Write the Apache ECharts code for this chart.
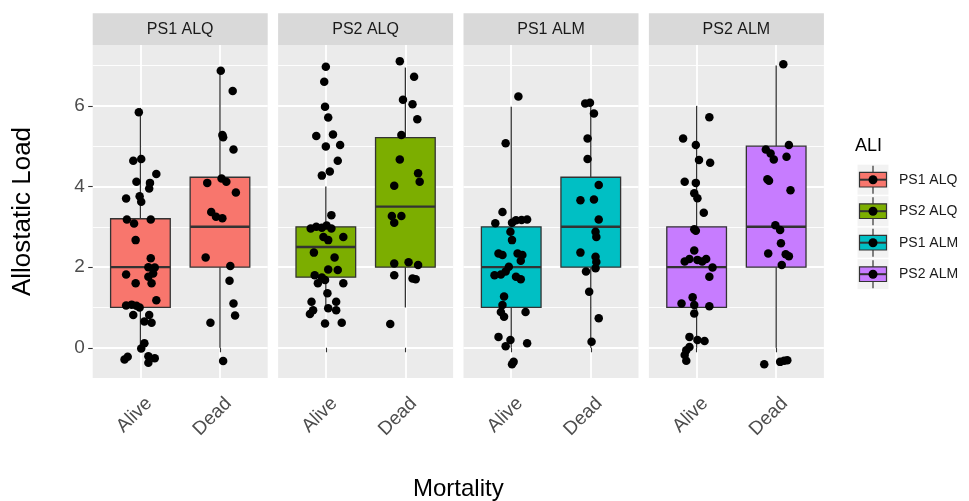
<!DOCTYPE html>
<html><head><meta charset="utf-8">
<script src="https://cdn.jsdelivr.net/npm/echarts@6/dist/echarts.min.js"></script>
<style>html,body{margin:0;padding:0;background:#fff}#c{width:969px;height:501px}</style>
</head><body><div id="c"></div>
<script>
// ---- data ----
const panels = ['PS1 ALQ', 'PS2 ALQ', 'PS1 ALM', 'PS2 ALM'];
const groups = ['Alive', 'Dead'];
const colors = ['#F8766D', '#7CAE00', '#00BFC4', '#C77CFF'];
const yTicks = [0, 2, 4, 6];
const yMinor = [1, 3, 5, 7];
const xTicks = [1, 2];

// box stats: [group position, whisker low, q1, median, q3, whisker high]
const boxPS1ALQ = [[1, 0, 1, 2, 3.2, 5.95], [2, 0, 2, 3, 4.23, 6.9]];
const boxPS2ALQ = [[1, 1, 1.75, 2.5, 3, 4], [2, 1, 2, 3.5, 5.21, 6.95]];
const boxPS1ALM = [[1, 0, 1, 2, 3, 5.98], [2, 0, 2, 3, 4.23, 6]];
const boxPS2ALM = [[1, 0, 1, 2, 3, 6], [2, 0, 2, 3, 5, 7]];

// jittered observations [x, y]
const ptsPS1ALQ = [
  [0.98,5.84],[0.91,4.64],[1.01,4.68],[1.20,4.31],[0.95,4.12],[1.12,4.09],[1.11,3.95],[0.82,3.70],[0.99,3.76],[1.01,3.62],
  [0.83,3.18],[0.92,3.08],[1.13,3.18],[0.94,2.67],[1.13,2.22],[1.10,2.00],[1.18,1.99],[1.16,1.84],[0.82,1.82],[1.10,1.76],
  [1.14,1.60],[0.94,1.60],[1.20,1.18],[0.82,1.05],[0.89,1.07],[0.95,1.04],[0.99,1.00],[0.91,0.81],[1.11,0.81],[1.05,0.65],
  [1.14,0.62],[1.05,0.11],[1.01,-0.02],[0.84,-0.22],[0.80,-0.29],[1.10,-0.21],[1.18,-0.26],[1.10,-0.37],
  [2.01,6.87],[2.16,6.37],[2.03,5.28],[2.04,5.22],[2.17,4.92],[1.84,4.09],[2.02,4.20],[2.08,4.12],[2.20,3.85],[1.89,3.37],
  [1.95,3.25],[2.03,3.21],[1.82,2.24],[2.13,2.03],[2.12,1.66],[2.17,1.10],[2.19,0.80],[1.88,0.62],[2.04,-0.33]
];
const ptsPS2ALQ = [
  [1.00,6.97],[0.98,6.60],[0.99,5.98],[1.03,5.71],[0.88,5.25],[1.09,5.29],[1.00,4.99],[1.18,5.03],[1.15,4.64],[0.95,4.27],
  [1.05,4.37],[1.07,3.29],[0.81,2.96],[0.88,3.00],[0.95,2.98],[1.01,3.03],[1.07,2.96],[0.97,2.75],[1.03,2.67],[1.22,2.75],
  [0.85,2.36],[1.11,2.24],[1.03,1.94],[1.15,1.93],[0.86,1.80],[0.95,1.74],[0.99,1.68],[0.90,1.60],[1.22,1.60],[1.02,1.35],
  [0.82,1.14],[1.13,1.14],[0.84,0.93],[0.80,0.84],[1.03,0.98],[1.13,0.93],[0.99,0.60],[1.20,0.62],
  [1.93,7.11],[2.11,6.72],[1.97,6.15],[2.09,6.04],[2.15,5.67],[1.95,5.28],[1.93,4.67],[2.16,4.33],[2.18,4.12],[1.86,4.02],
  [1.83,3.27],[1.95,3.27],[1.86,3.10],[1.86,2.09],[2.04,2.12],[2.16,2.05],[1.86,1.80],[2.09,1.72],[2.13,1.70],[1.81,0.59]
];
const ptsPS1ALM = [
  [1.09,6.23],[0.93,5.07],[0.89,3.37],[0.80,3.09],[1.01,3.10],[1.06,3.16],[1.13,3.17],[1.20,3.18],[0.99,2.88],[1.01,2.67],
  [0.84,2.34],[0.89,2.30],[1.08,2.34],[1.14,2.30],[1.12,2.16],[0.97,2.01],[0.93,1.89],[0.79,1.80],[0.87,1.82],[1.06,1.76],
  [1.12,1.70],[0.91,1.27],[0.89,1.06],[0.87,0.89],[0.91,0.77],[1.18,0.89],[0.84,0.27],[0.99,0.19],[0.93,0.04],[1.20,0.11],
  [1.03,-0.35],[1.01,-0.41],
  [1.93,6.06],[1.99,6.08],[2.04,5.81],[1.96,5.19],[1.96,4.68],[2.10,4.04],[1.87,3.66],[2.04,3.68],[2.10,3.18],[2.06,2.88],
  [2.07,2.75],[1.87,2.36],[2.06,2.26],[2.07,2.13],[1.94,1.89],[2.06,1.97],[1.98,1.39],[2.10,0.73],[2.01,0.15]
];
const ptsPS2ALM = [
  [1.16,5.72],[0.83,5.19],[0.99,5.03],[1.03,4.66],[1.17,4.59],[0.85,4.12],[0.99,4.09],[0.97,3.83],[1.01,3.71],[1.09,3.35],
  [0.97,2.94],[0.99,2.90],[0.97,2.41],[0.85,2.14],[0.91,2.20],[1.01,2.18],[1.07,2.14],[1.12,2.20],[1.20,1.99],[1.16,1.76],
  [0.95,1.25],[0.81,1.10],[0.97,1.06],[1.16,1.03],[0.97,0.85],[0.91,0.27],[1.01,0.19],[1.10,0.17],[0.87,-0.06],[0.91,0.02],
  [0.85,-0.18],[0.87,-0.32],
  [2.09,7.03],[1.87,4.92],[1.93,4.82],[1.97,4.67],[2.16,5.03],[2.13,4.74],[1.89,4.18],[1.91,4.14],[2.18,3.91],[1.99,3.04],
  [2.05,2.92],[2.06,2.59],[1.90,2.34],[2.12,2.32],[2.16,2.27],[2.07,2.05],[1.85,-0.41],[2.05,-0.35],[2.10,-0.32],[2.14,-0.31]
];
const boxData = [boxPS1ALQ, boxPS2ALQ, boxPS1ALM, boxPS2ALM];
const pointData = [ptsPS1ALQ, ptsPS2ALQ, ptsPS1ALM, ptsPS2ALM];

// ---- layout / style ----
const FONT = "'Liberation Sans', Arial, sans-serif";
const P_LEFT = 92.7, P_W = 175, P_GAP = 10.4, P_TOP = 45, P_H = 333;
const STRIP_TOP = 13.3;
const X_MIN = 0.4, X_MAX = 2.6, Y_MIN = -0.75, Y_MAX = 7.51;
const BOX_HALF = 0.375;
const INK = '#333333';

function renderBox(params, api) {
  const x = api.value(0), lo = api.value(1), q1 = api.value(2), md = api.value(3), q3 = api.value(4), hi = api.value(5);
  const tl = api.coord([x - BOX_HALF, q3]);
  const br = api.coord([x + BOX_HALF, q1]);
  const ml = api.coord([x - BOX_HALF, md]);
  const mr = api.coord([x + BOX_HALF, md]);
  const pLo = api.coord([x, lo]), pQ1 = api.coord([x, q1]), pQ3 = api.coord([x, q3]), pHi = api.coord([x, hi]);
  const fill = api.visual('color');
  return {
    type: 'group',
    children: [
      { type: 'line', shape: { x1: pQ3[0], y1: pQ3[1], x2: pHi[0], y2: pHi[1] }, style: { stroke: INK, lineWidth: 1.3 } },
      { type: 'line', shape: { x1: pQ1[0], y1: pQ1[1], x2: pLo[0], y2: pLo[1] }, style: { stroke: INK, lineWidth: 1.3 } },
      { type: 'rect', shape: { x: tl[0], y: tl[1], width: br[0] - tl[0], height: br[1] - tl[1] }, style: { fill: fill, stroke: INK, lineWidth: 1.3 } },
      { type: 'line', shape: { x1: ml[0], y1: ml[1], x2: mr[0], y2: mr[1] }, style: { stroke: INK, lineWidth: 2.4 } }
    ]
  };
}

const grids = [], xAxes = [], yAxes = [], series = [], graphics = [];
panels.forEach((name, i) => {
  const left = P_LEFT + i * (P_W + P_GAP);
  grids.push({ left: left, top: P_TOP, width: P_W, height: P_H, show: true, backgroundColor: '#EBEBEB', borderWidth: 0, containLabel: false });
  xAxes.push({
    type: 'value', gridIndex: i, min: X_MIN, max: X_MAX,
    axisLine: { show: false },
    axisTick: { show: true, customValues: xTicks, length: 4.5, lineStyle: { color: INK, width: 1.1 } },
    axisLabel: {
      customValues: xTicks,
      // leading empty line pushes the visible word half a line "down" in its rotated frame (ggplot vjust = 1)
      formatter: v => '\n' + groups[Math.round(v) - 1],
      lineHeight: 24, rotate: 45, fontSize: 19, color: '#4D4D4D', margin: 14, fontFamily: FONT
    },
    splitLine: { show: true, lineStyle: { color: '#FFFFFF', width: 1.8 } }
  });
  yAxes.push({
    type: 'value', gridIndex: i, min: Y_MIN, max: Y_MAX, position: 'left',
    axisLine: { show: false },
    axisTick: { show: i === 0, customValues: yTicks, length: 4.5, lineStyle: { color: INK, width: 1.1 } },
    axisLabel: { show: i === 0, customValues: yTicks, fontSize: 19, color: '#4D4D4D', margin: 8, fontFamily: FONT },
    splitLine: { show: true, lineStyle: { color: '#FFFFFF', width: 1.8 } },
    name: i === 0 ? 'Allostatic Load' : '', nameLocation: 'middle', nameGap: 57,
    nameTextStyle: { fontSize: 26, color: '#000', fontFamily: FONT }
  });
  yAxes.push({
    type: 'value', gridIndex: i, min: Y_MIN, max: Y_MAX, position: 'right',
    axisLine: { show: false },
    axisTick: { show: false, customValues: yMinor },
    axisLabel: { show: false, customValues: yMinor },
    splitLine: { show: true, lineStyle: { color: '#FFFFFF', width: 0.9 } }
  });
  series.push({
    name: name, type: 'custom', coordinateSystem: 'cartesian2d', xAxisIndex: i, yAxisIndex: 2 * i,
    itemStyle: { color: colors[i] }, renderItem: renderBox, encode: { x: 0, y: [1, 2, 3, 4, 5] },
    data: boxData[i], silent: true, z: 2
  });
  series.push({
    name: name + ' points', type: 'scatter', xAxisIndex: i, yAxisIndex: 2 * i,
    symbol: 'circle', symbolSize: 8.5, itemStyle: { color: '#000000', opacity: 1 },
    data: pointData[i], silent: true, z: 3
  });
  // facet strip
  graphics.push({ type: 'rect', shape: { x: left, y: STRIP_TOP, width: P_W, height: P_TOP - STRIP_TOP }, style: { fill: '#D9D9D9' }, silent: true });
  graphics.push({ type: 'text', x: left + P_W / 2, y: (STRIP_TOP + P_TOP) / 2, style: { text: name, fontSize: 16, fill: '#1A1A1A', fontFamily: FONT, align: 'center', verticalAlign: 'middle' }, silent: true });
});

// x-axis title
graphics.push({ type: 'text', x: P_LEFT + (4 * P_W + 3 * P_GAP) / 2, y: 489, style: { text: 'Mortality', fontSize: 24, fill: '#000', fontFamily: FONT, align: 'center', verticalAlign: 'middle' }, silent: true });

// legend
const LG_X = 857.5, LG_Y0 = 179.7, LG_STEP = 31.5, KEY = 31;
graphics.push({ type: 'text', x: 855, y: 146, style: { text: 'ALI', fontSize: 18, fill: '#000', fontFamily: FONT, align: 'left', verticalAlign: 'middle' }, silent: true });
panels.forEach((name, i) => {
  const cy = LG_Y0 + i * LG_STEP, cx = LG_X + KEY / 2;
  graphics.push({ type: 'rect', shape: { x: LG_X, y: cy - KEY / 2 + 0.5, width: KEY, height: KEY - 1 }, style: { fill: '#F2F2F2' }, silent: true });
  graphics.push({ type: 'line', shape: { x1: cx, y1: cy - 14, x2: cx, y2: cy + 14 }, style: { stroke: INK, lineWidth: 1.2 }, silent: true });
  graphics.push({ type: 'rect', shape: { x: LG_X + 2, y: cy - 7.3, width: KEY - 4, height: 14.6 }, style: { fill: colors[i], stroke: INK, lineWidth: 1.2 }, silent: true });
  graphics.push({ type: 'line', shape: { x1: LG_X + 2, y1: cy, x2: LG_X + KEY - 2, y2: cy }, style: { stroke: INK, lineWidth: 2 }, silent: true });
  graphics.push({ type: 'circle', shape: { cx: cx, cy: cy, r: 4.5 }, style: { fill: '#000' }, silent: true });
  graphics.push({ type: 'text', x: 899, y: cy, style: { text: name, fontSize: 14, fill: '#1A1A1A', fontFamily: FONT, align: 'left', verticalAlign: 'middle' }, silent: true });
});

const chart = echarts.init(document.getElementById('c'), null, { renderer: 'canvas' });
chart.setOption({
  animation: false,
  backgroundColor: '#FFFFFF',
  textStyle: { fontFamily: FONT },
  grid: grids, xAxis: xAxes, yAxis: yAxes, series: series, graphic: graphics
});
</script></body></html>
